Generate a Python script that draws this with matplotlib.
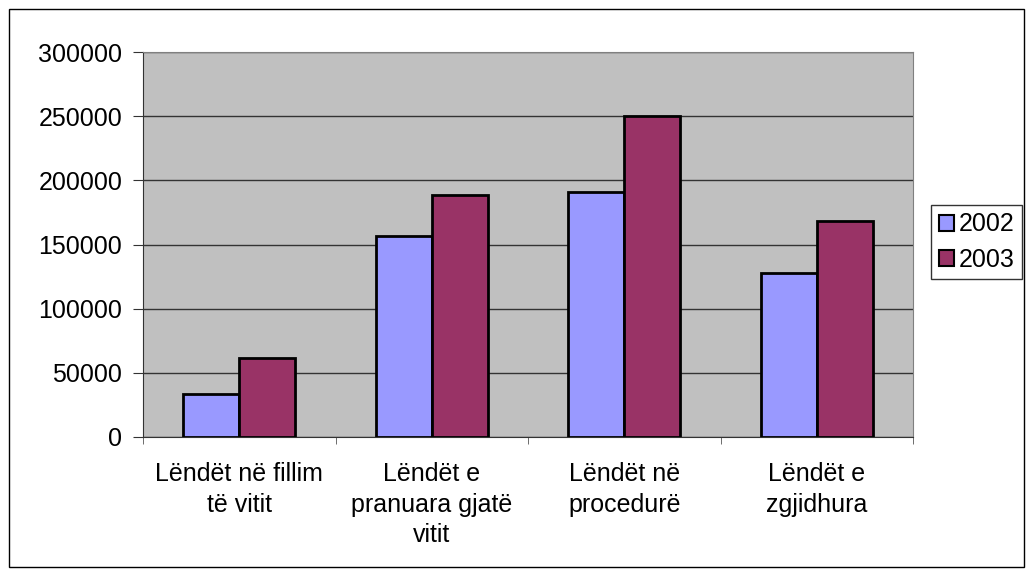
import numpy as np
import matplotlib
matplotlib.use("Agg")
import matplotlib.pyplot as plt
from matplotlib.patches import Rectangle

plt.rcParams['font.family'] = ['Liberation Sans', 'DejaVu Sans']

categories = ["Lëndët në fillim\ntë vitit", "Lëndët e\npranuara gjatë\nvitit",
              "Lëndët në\nprocedurë", "Lëndët e\nzgjidhura"]
years = ["2002", "2003"]
v2002 = [33800, 156500, 190600, 127900]
v2003 = [61500, 188500, 250000, 168000]
colors = ["#9999FF", "#993366"]

fs = 18

fig = plt.figure(figsize=(10.3, 5.75), dpi=100)
ax = fig.add_axes([143/1030, 1-437/575, 770/1030, 385/575])
ax.set_facecolor("#C0C0C0")

x = np.arange(len(categories))
w = 0.29
ax.bar(x - w/2, v2002, w, color=colors[0], edgecolor="black", linewidth=2, label=years[0], zorder=3)
ax.bar(x + w/2, v2003, w, color=colors[1], edgecolor="black", linewidth=2, label=years[1], zorder=3)

ax.set_xlim(-0.5, 3.5)
ax.set_ylim(0, 300000)
ax.set_yticks(np.arange(0, 300001, 50000))
ax.yaxis.grid(True, color="#333333", linewidth=1, zorder=1)
ax.set_axisbelow(True)
ax.tick_params(axis='y', labelsize=fs, length=7, color="#333333", pad=8)

ax.set_xticks(x)
ax.set_xticklabels(categories, fontsize=fs, linespacing=1.35)
ax.tick_params(axis='x', length=0, pad=18)
ax.set_xticks(np.arange(-0.5, 3.6, 1), minor=True)
ax.tick_params(axis='x', which='minor', length=5, color="#555555")

for s in ax.spines.values():
    s.set_color("#808080")
ax.spines['left'].set_color("#333333")
ax.spines['bottom'].set_color("#333333")

leg = ax.legend(loc='upper right', bbox_to_anchor=(1022/1030, 1-205/575), bbox_transform=fig.transFigure,
                fontsize=fs, frameon=True, fancybox=False, handlelength=0.6, handleheight=0.6,
                handletextpad=0.2, borderpad=0.3, labelspacing=0.45, borderaxespad=0)
leg.get_frame().set_edgecolor("black")
leg.get_frame().set_linewidth(1)
for h in leg.legend_handles:
    h.set_linewidth(1.5)

fig.patches.append(Rectangle((9/1030, 1-567/575), 1015/1030, 558/575, transform=fig.transFigure,
                             fill=False, edgecolor="black", linewidth=1))

fig.savefig("out.png", dpi=100, facecolor="white")
